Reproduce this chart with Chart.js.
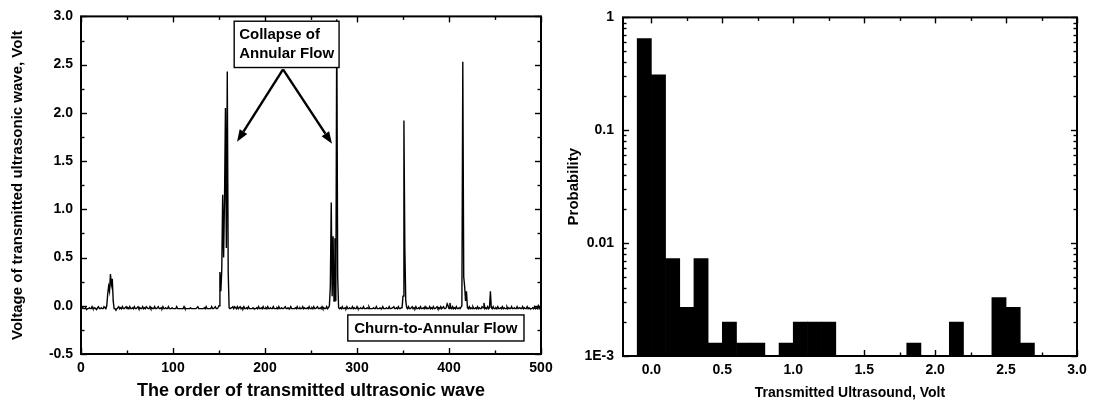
<!DOCTYPE html>
<html>
<head>
<meta charset="utf-8">
<script src="https://cdn.jsdelivr.net/npm/chart.js@4/dist/chart.umd.min.js"></script>
<style>
html,body{margin:0;padding:0;background:#fff;}
body{width:1093px;height:404px;overflow:hidden;position:relative;}
#c1{position:absolute;left:0;top:0;}
#c2{position:absolute;left:560px;top:0;}
</style>
</head>
<body>
<canvas id="c1" width="560" height="404"></canvas>
<canvas id="c2" width="533" height="404"></canvas>
<script>
// ---------- Left chart data ----------
const orderStart = 1;
const voltage = [
-0.03,-0.02,-0.03,-0.03,-0.02,-0.04,-0.03,-0.03,-0.02,-0.03,
-0.03,-0.01,-0.03,-0.03,-0.02,-0.03,-0.04,-0.02,-0.01,-0.03,
-0.03,-0.02,-0.03,-0.03,-0.01,-0.02,-0.03,0.0,0.12,0.2,
0.15,0.33,0.22,0.28,0.05,-0.03,-0.03,-0.04,-0.03,-0.02,
-0.01,-0.03,-0.02,-0.03,-0.01,-0.03,-0.03,-0.02,-0.01,-0.03,
-0.02,-0.03,-0.01,-0.03,-0.03,-0.02,-0.03,-0.01,-0.03,-0.03,
-0.02,-0.01,-0.03,-0.02,-0.03,-0.03,-0.01,-0.03,-0.02,-0.03,
-0.01,-0.02,-0.03,-0.03,-0.01,-0.03,-0.02,-0.03,-0.03,-0.01,
-0.03,-0.03,-0.02,-0.01,-0.03,-0.03,-0.02,-0.03,-0.01,-0.03,
-0.03,-0.02,-0.03,-0.03,-0.01,-0.03,-0.03,-0.03,-0.02,-0.03,
-0.03,-0.03,-0.03,-0.01,-0.03,-0.03,-0.03,-0.03,-0.03,-0.03,
-0.03,-0.01,-0.03,-0.03,-0.03,-0.03,-0.03,-0.03,-0.02,-0.03,
-0.03,-0.03,-0.03,-0.03,-0.03,-0.03,-0.01,-0.03,-0.03,-0.03,
-0.03,-0.03,-0.03,-0.02,-0.03,-0.01,-0.03,-0.03,-0.03,-0.03,
-0.03,-0.01,-0.03,-0.03,-0.02,-0.01,-0.03,-0.03,-0.02,0.0,
0.35,0.15,0.37,1.15,0.5,1.1,2.05,0.6,2.43,0.35,
-0.02,-0.03,-0.03,-0.02,-0.01,-0.03,-0.01,-0.02,-0.03,-0.01,
-0.03,-0.02,-0.01,-0.03,-0.02,-0.03,-0.01,-0.03,-0.03,-0.02,
-0.03,-0.01,-0.03,-0.03,-0.03,-0.03,-0.02,-0.03,-0.03,-0.03,
-0.02,-0.03,-0.01,-0.03,-0.03,-0.02,-0.03,-0.01,-0.03,-0.03,
-0.02,-0.03,-0.01,-0.03,-0.03,-0.02,-0.03,-0.03,-0.01,-0.03,
-0.03,-0.03,-0.02,-0.03,-0.01,-0.03,-0.03,-0.02,-0.03,-0.03,
-0.02,-0.01,-0.03,-0.03,-0.02,-0.03,-0.03,-0.01,-0.03,-0.03,
-0.03,-0.03,-0.02,-0.03,-0.01,-0.03,-0.03,-0.02,-0.03,-0.03,
-0.01,-0.03,-0.02,-0.03,-0.03,-0.02,-0.03,-0.01,-0.03,-0.03,
-0.02,-0.03,-0.01,-0.03,-0.03,-0.02,-0.01,-0.03,-0.03,-0.02,
-0.03,-0.01,-0.03,-0.02,-0.03,-0.03,-0.01,-0.03,-0.02,0.0,
0.2,1.07,0.1,0.72,0.05,0.7,0.05,2.97,0.3,-0.02,
-0.03,-0.02,-0.03,-0.01,-0.03,-0.03,-0.02,-0.03,-0.01,-0.03,
-0.03,-0.02,-0.03,-0.03,-0.01,-0.03,-0.02,-0.03,-0.03,-0.01,
-0.03,-0.03,-0.03,-0.02,-0.03,-0.03,-0.01,-0.03,-0.03,-0.03,
-0.02,-0.03,-0.01,-0.03,-0.03,-0.03,-0.03,-0.02,-0.03,-0.03,
-0.01,-0.03,-0.03,-0.03,-0.02,-0.03,-0.03,-0.01,-0.03,-0.03,
-0.03,-0.02,-0.03,-0.03,-0.01,-0.03,-0.03,-0.03,-0.02,-0.01,
-0.03,-0.03,-0.02,-0.03,-0.01,-0.03,-0.03,-0.02,-0.02,0.1,
1.92,0.6,0.05,-0.02,-0.03,-0.01,-0.03,-0.03,-0.02,-0.01,
-0.03,-0.02,-0.03,-0.01,-0.03,-0.03,-0.02,-0.03,-0.01,-0.03,
-0.03,-0.02,-0.03,-0.01,-0.03,-0.02,-0.03,-0.03,-0.01,-0.03,
-0.02,-0.03,-0.01,-0.03,-0.03,-0.02,-0.01,-0.03,-0.02,-0.03,
-0.01,-0.03,-0.02,-0.01,-0.03,-0.03,-0.02,0.02,0.0,-0.03,
0.03,-0.02,-0.03,-0.01,-0.03,-0.02,-0.03,-0.01,-0.03,-0.03,
-0.02,-0.03,-0.03,0.0,2.53,0.3,0.2,0.05,0.15,-0.02,
-0.03,-0.01,-0.03,-0.02,-0.03,-0.01,-0.03,-0.03,-0.02,-0.03,
-0.01,-0.03,-0.02,-0.03,-0.03,-0.01,-0.02,0.03,-0.03,-0.02,
-0.03,-0.01,-0.03,-0.02,0.15,-0.02,-0.03,-0.01,-0.03,-0.03,
-0.02,-0.03,-0.01,-0.03,-0.03,-0.02,-0.03,-0.01,-0.03,-0.02,
-0.03,-0.03,-0.01,-0.03,-0.02,-0.03,-0.03,-0.01,-0.03,-0.03,
-0.02,-0.03,-0.03,-0.01,-0.03,-0.03,-0.02,-0.03,-0.03,-0.01,
-0.03,-0.02,-0.03,-0.03,-0.01,-0.03,-0.02,-0.03,-0.03,-0.03,
-0.02,-0.03,-0.01,-0.03,-0.02,-0.03,0.0,-0.03,-0.01,-0.03
];
const leftXTicks = [0,100,200,300,400,500];
const leftXMinor = [50,150,250,350,450];
const leftYTicks = [-0.5,0,0.5,1,1.5,2,2.5,3];
const leftYLabels = ['-0.5','0.0','0.5','1.0','1.5','2.0','2.5','3.0'];
const leftYMinor = [-0.25,0.25,0.75,1.25,1.75,2.25,2.75];
const leftXTitle = 'The order of transmitted ultrasonic wave';
const leftYTitle = 'Voltage of transmitted ultrasonic wave, Volt';
const noteCollapse = ['Collapse of','Annular Flow'];
const noteChurn = 'Churn-to-Annular Flow';

// ---------- Right chart data ----------
const binCenters  = [-0.05,0.05,0.15,0.25,0.35,0.45,0.55,0.65,0.75,0.95,1.05,1.15,1.25,1.85,2.15,2.45,2.55,2.65];
const probability = [0.65,0.31,0.0073,0.0027,0.0073,0.0013,0.002,0.0013,0.0013,0.0013,0.002,0.002,0.002,0.0013,0.002,0.0033,0.0027,0.0013];
const rightXTicks = [0,0.5,1,1.5,2,2.5,3];
const rightXLabels = ['0.0','0.5','1.0','1.5','2.0','2.5','3.0'];
const rightXMinor = [0.25,0.75,1.25,1.75,2.25,2.75];
const rightYTicks = [0.001,0.01,0.1,1];
const rightYLabels = ['1E-3','0.01','0.1','1'];
const rightYMinor = [0.002,0.003,0.004,0.005,0.006,0.007,0.008,0.009,
                     0.02,0.03,0.04,0.05,0.06,0.07,0.08,0.09,
                     0.2,0.3,0.4,0.5,0.6,0.7,0.8,0.9];
const rightXTitle = 'Transmitted Ultrasound, Volt';
const rightYTitle = 'Probability';

const FONT = '"Liberation Sans", Arial, sans-serif';
Chart.defaults.font.family = FONT;
Chart.defaults.color = '#000';

// frame + inward ticks plugin
const frameTicks = {
  id: 'frameTicks',
  afterDatasetsDraw(chart, args, o) {
    const {ctx, chartArea: a, scales: {x, y}} = chart;
    ctx.save();
    ctx.strokeStyle = '#000';
    const seg = (x1,y1,x2,y2)=>{ctx.beginPath();ctx.moveTo(x1,y1);ctx.lineTo(x2,y2);ctx.stroke();};
    ctx.lineWidth = 1.4;
    const doX = (vals,len)=>vals.forEach(v=>{const p=Math.round(x.getPixelForValue(v))+0.5; seg(p,a.bottom,p,a.bottom-len); seg(p,a.top,p,a.top+len);});
    const doY = (vals,len)=>vals.forEach(v=>{const p=Math.round(y.getPixelForValue(v))+0.5; seg(a.left,p,a.left+len,p); seg(a.right,p,a.right-len,p);});
    doX(o.xMajor,6); doX(o.xMinor,3.5);
    doY(o.yMajor,6); doY(o.yMinor,3.5);
    ctx.lineWidth = 2;
    ctx.strokeRect(a.left, a.top, a.right-a.left, a.bottom-a.top);
    ctx.restore();
  }
};

// annotation plugin for left chart
const notes = {
  id: 'notes',
  afterDatasetsDraw(chart, args, o) {
    if (!o.enabled) return;
    const {ctx, scales: {x, y}} = chart;
    ctx.save();
    ctx.font = 'bold 15px ' + FONT;
    ctx.fillStyle = '#000';
    ctx.strokeStyle = '#000';
    // box 1
    const b1 = o.box1;
    const L = x.getPixelForValue(b1.x0), R = x.getPixelForValue(b1.x1);
    const T = y.getPixelForValue(b1.y0), B = y.getPixelForValue(b1.y1);
    ctx.fillStyle = '#fff'; ctx.fillRect(L,T,R-L,B-T);
    ctx.lineWidth = 1.4; ctx.strokeRect(L,T,R-L,B-T);
    ctx.fillStyle = '#000'; ctx.textBaseline = 'middle'; ctx.textAlign = 'left';
    ctx.fillText(b1.text[0], L+5, T+14);
    ctx.fillText(b1.text[1], L+5, T+33);
    // box 2
    const b2 = o.box2;
    const L2 = x.getPixelForValue(b2.x0), R2 = x.getPixelForValue(b2.x1);
    const T2 = y.getPixelForValue(b2.y0), B2 = y.getPixelForValue(b2.y1);
    ctx.fillStyle = '#fff'; ctx.fillRect(L2,T2,R2-L2,B2-T2);
    ctx.strokeRect(L2,T2,R2-L2,B2-T2);
    ctx.fillStyle = '#000'; ctx.textAlign = 'center';
    ctx.fillText(b2.text, (L2+R2)/2, (T2+B2)/2+1);
    // arrows
    const ax = x.getPixelForValue(o.apex[0]), ay = y.getPixelForValue(o.apex[1]);
    ctx.lineWidth = 2.4;
    o.tips.forEach(t=>{
      const tx = x.getPixelForValue(t[0]), ty = y.getPixelForValue(t[1]);
      const ang = Math.atan2(ty-ay, tx-ax);
      const hl = 12, hw = 4.5;
      const bx = tx - hl*Math.cos(ang), by = ty - hl*Math.sin(ang);
      ctx.beginPath(); ctx.moveTo(ax,ay); ctx.lineTo(bx,by); ctx.stroke();
      ctx.beginPath();
      ctx.moveTo(tx,ty);
      ctx.lineTo(bx + hw*Math.sin(ang), by - hw*Math.cos(ang));
      ctx.lineTo(bx - hw*Math.sin(ang), by + hw*Math.cos(ang));
      ctx.closePath(); ctx.fill();
    });
    ctx.restore();
  }
};

const tickFont = {size: 14, weight: 'bold'};
const titleFont = {size: 15, weight: 'bold'};

// ---------- Left chart ----------
new Chart(document.getElementById('c1'), {
  type: 'line',
  data: {
    datasets: [{
      data: voltage.map((v,i)=>({x: orderStart + i, y: v})),
      borderColor: '#000',
      borderWidth: 1.4,
      pointRadius: 0,
      tension: 0,
      fill: false
    }]
  },
  options: {
    responsive: false,
    animation: false,
    events: [],
    layout: {padding: {top: 15, right: 19, left: 0, bottom: 0}},
    plugins: {
      legend: {display: false},
      tooltip: {enabled: false},
      frameTicks: {xMajor: leftXTicks, xMinor: leftXMinor, yMajor: leftYTicks, yMinor: leftYMinor},
      notes: {
        enabled: true,
        box1: {x0: 166.5, x1: 280.5, y0: 2.95, y1: 2.47, text: noteCollapse},
        box2: {x0: 290, x1: 481.5, y0: -0.095, y1: -0.365, text: noteChurn},
        apex: [219.6, 2.45],
        tips: [[169.6, 1.70], [272.8, 1.68]]
      }
    },
    scales: {
      x: {
        type: 'linear', min: 0, max: 500,
        grid: {display: false, drawTicks: false},
        border: {display: false},
        afterBuildTicks: s => { s.ticks = leftXTicks.map(v=>({value: v})); },
        afterFit: s => { s.height = 50; },
        ticks: {font: tickFont, padding: 6, maxRotation: 0, autoSkip: false, callback: v => String(v)},
        title: {display: true, text: leftXTitle, font: {size: 18, weight: 'bold'}, padding: {top: 0, bottom: 2}}
      },
      y: {
        type: 'linear', min: -0.5, max: 3,
        grid: {display: false, drawTicks: false},
        border: {display: false},
        afterBuildTicks: s => { s.ticks = leftYTicks.map(v=>({value: v})); },
        afterFit: s => { s.width = 81; },
        ticks: {font: tickFont, padding: 8, autoSkip: false, callback: (v,i) => leftYLabels[i]},
        title: {display: true, text: leftYTitle, font: titleFont, padding: {top: 9, bottom: 0}}
      }
    }
  },
  plugins: [frameTicks, notes]
});

// ---------- Right chart ----------
new Chart(document.getElementById('c2'), {
  type: 'bar',
  data: {
    datasets: [{
      data: binCenters.map((c,i)=>({x: c, y: probability[i]})),
      backgroundColor: '#000',
      borderColor: '#000',
      borderWidth: 0,
      barPercentage: 1,
      categoryPercentage: 1,
      base: 0.001
    }]
  },
  options: {
    responsive: false,
    animation: false,
    events: [],
    layout: {padding: {top: 15, right: 16, left: 0, bottom: 0}},
    plugins: {
      legend: {display: false},
      tooltip: {enabled: false},
      frameTicks: {xMajor: rightXTicks, xMinor: rightXMinor, yMajor: rightYTicks, yMinor: rightYMinor},
      notes: {enabled: false}
    },
    scales: {
      x: {
        type: 'linear', min: -0.2, max: 3.0, offset: false,
        grid: {display: false, drawTicks: false},
        border: {display: false},
        afterBuildTicks: s => { s.ticks = rightXTicks.map(v=>({value: v})); },
        afterFit: s => { s.height = 48; },
        ticks: {font: tickFont, padding: 6, maxRotation: 0, autoSkip: false, callback: (v,i) => rightXLabels[i]},
        title: {display: true, text: rightXTitle, font: {size: 14, weight: 'bold'}, padding: {top: 0, bottom: 2}}
      },
      y: {
        type: 'logarithmic', min: 0.001, max: 1,
        grid: {display: false, drawTicks: false},
        border: {display: false},
        afterBuildTicks: s => { s.ticks = rightYTicks.map(v=>({value: v})); },
        afterFit: s => { s.width = 63; },
        ticks: {font: tickFont, padding: 9, autoSkip: false, callback: (v,i) => rightYLabels[i]},
        title: {display: true, text: rightYTitle, font: titleFont, padding: {top: 5, bottom: 0}}
      }
    }
  },
  plugins: [frameTicks, notes]
});
</script>
</body>
</html>
